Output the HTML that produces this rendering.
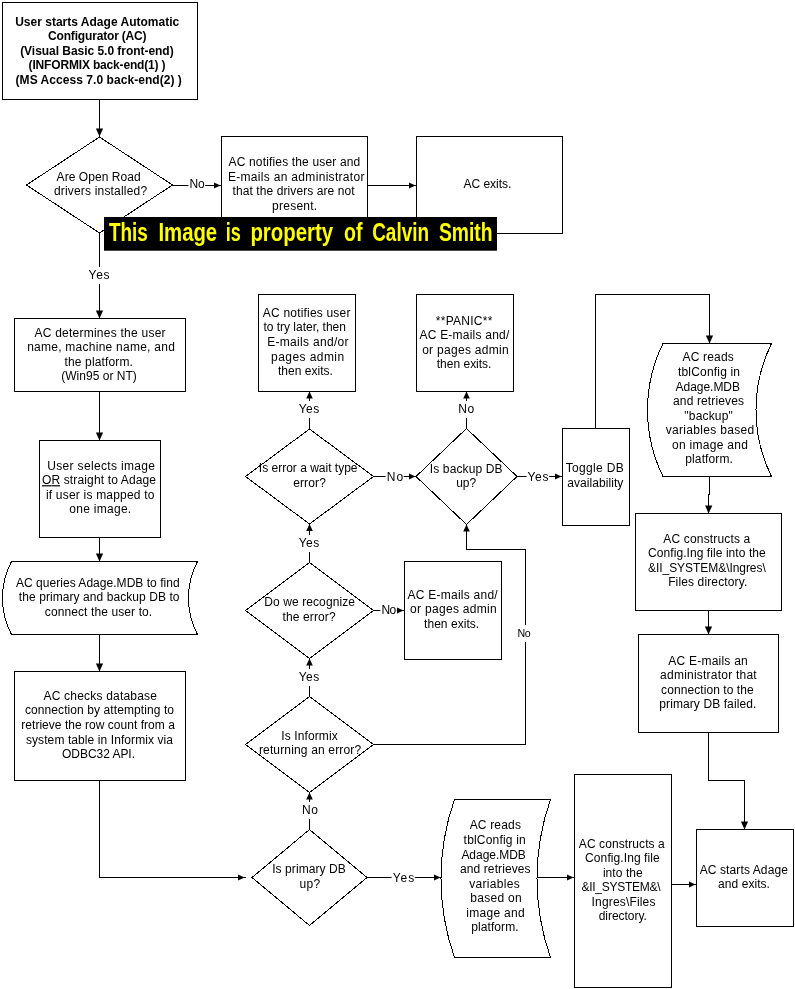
<!DOCTYPE html>
<html><head><meta charset="utf-8"><title>Adage Automatic Configurator flowchart</title>
<style>
html,body{margin:0;padding:0;background:#fff;}
body{width:795px;height:989px;overflow:hidden;position:relative;}
svg{position:absolute;left:0;top:0;display:block;will-change:transform;}
.s{fill:#fff;stroke:#000;stroke-width:1;}
.l{fill:none;stroke:#000;stroke-width:1;}
.a{fill:#000;stroke:none;}
text{font-family:"Liberation Sans",sans-serif;font-size:12px;fill:#000;text-anchor:middle;}
.b{font-weight:bold;}
.w{fill:#fff;stroke:none;}
.ban{font-family:"Liberation Sans",sans-serif;font-weight:bold;font-size:25.5px;fill:#ffff00;text-anchor:start;}
</style></head><body>
<svg width="795" height="989" viewBox="0 0 795 989">
<rect x="0" y="0" width="795" height="989" fill="#fff"/>
<g shape-rendering="crispEdges">
<path class="l" d="M99.5,99.5 L99.5,136.5"/>
<path class="l" d="M172.5,185.5 L221.5,185.5"/>
<path class="l" d="M367.5,185.5 L416.5,185.5"/>
<path class="l" d="M99.5,233 L99.5,318.5"/>
<path class="l" d="M99.5,391.5 L99.5,440.5"/>
<path class="l" d="M99.5,537.5 L99.5,561.5"/>
<path class="l" d="M99.5,634.5 L99.5,671.5"/>
<path class="l" d="M99.5,780.5 L99.5,877.5 L245.5,877.5"/>
<path class="l" d="M309.5,829.5 L309.5,792.5"/>
<path class="l" d="M309.5,696.5 L309.5,658.5"/>
<path class="l" d="M309.5,562.5 L309.5,524"/>
<path class="l" d="M309.5,429 L309.5,391.5"/>
<path class="l" d="M373.5,476.5 L416.5,476.5"/>
<path class="l" d="M466.5,428.5 L466.5,391.5"/>
<path class="l" d="M516.5,476.5 L562.5,476.5"/>
<path class="l" d="M595.5,428.5 L595.5,294.5 L709.5,294.5 L709.5,343.5"/>
<path class="l" d="M709.5,476.5 L708.5,513.5"/>
<path class="l" d="M708.5,610.5 L708.5,634.5"/>
<path class="l" d="M708.5,732.5 L708.5,780.5 L744.5,780.5 L744.5,829.5"/>
<path class="l" d="M373.5,610.5 L404.5,610.5"/>
<path class="l" d="M373.5,744.5 L525.5,744.5 L525.5,549.5 L466.5,549.5 L466.5,524.5"/>
<path class="l" d="M367,877.5 L441.5,877.5"/>
<path class="l" d="M537.5,877.5 L574.5,877.5"/>
<path class="l" d="M671.5,884.5 L696.5,884.5"/>
<rect class="s" x="2.5" y="2.5" width="195" height="97"/>
<rect class="s" x="221.5" y="136.5" width="146" height="97"/>
<rect class="s" x="416.5" y="136.5" width="146" height="97"/>
<rect class="s" x="14.5" y="318.5" width="171" height="73"/>
<rect class="s" x="39.5" y="440.5" width="121" height="97"/>
<rect class="s" x="14.5" y="671.5" width="171" height="109"/>
<rect class="s" x="258.5" y="294.5" width="97" height="97"/>
<rect class="s" x="416.5" y="294.5" width="97" height="97"/>
<rect class="s" x="404.5" y="561.5" width="97" height="98"/>
<rect class="s" x="562.5" y="428.5" width="67" height="97"/>
<rect class="s" x="635.5" y="513.5" width="146" height="97"/>
<rect class="s" x="638.5" y="634.5" width="140" height="98"/>
<rect class="s" x="574.5" y="774.5" width="97" height="213"/>
<rect class="s" x="696.5" y="829.5" width="97" height="97"/>
</g>
<g shape-rendering="crispEdges">
<path class="s" d="M99.5,137 L172.5,185 L99.5,233 L26.5,185 Z"/>
<path class="s" d="M309.5,429 L373.5,476.5 L309.5,524 L245.5,476.5 Z"/>
<path class="s" d="M309.5,562.5 L373.5,610.5 L309.5,658.5 L245.5,610.5 Z"/>
<path class="s" d="M309.5,696.5 L373.5,744.5 L309.5,792.5 L245.5,744.5 Z"/>
<path class="s" d="M309.5,829.5 L367,877.5 L309.5,925.5 L252,877.5 Z"/>
<path class="s" d="M466.5,428.5 L517,476.5 L466.5,524.5 L416,476.5 Z"/>
<path class="s" d="M11.5,561.5 L197.5,561.5 A78.5,78.5 0 0 0 197.5,634.5 L11.5,634.5 A78.5,78.5 0 0 1 11.5,561.5 Z"/>
<path class="s" d="M663,343.5 L771.5,343.5 A150.4,150.4 0 0 0 771.5,476.5 L663,476.5 A150.4,150.4 0 0 1 663,343.5 Z"/>
<path class="s" d="M454.5,799.5 L550.5,799.5 A237.9,237.9 0 0 0 550.5,957.5 L454.5,957.5 A237.9,237.9 0 0 1 454.5,799.5 Z"/>
</g>
<g>
<path class="a" d="M99.5,136.5 L95.9,128.5 L103.1,128.5 Z"/>
<path class="a" d="M220.5,185.5 L214,188.6 L214,182.4 Z"/>
<path class="a" d="M415.5,185.5 L409,188.6 L409,182.4 Z"/>
<path class="a" d="M99.5,318.5 L95.9,310.5 L103.1,310.5 Z"/>
<path class="a" d="M99.5,440.5 L95.9,432.5 L103.1,432.5 Z"/>
<path class="a" d="M99.5,561.5 L95.9,553.5 L103.1,553.5 Z"/>
<path class="a" d="M99.5,671.5 L95.9,663.5 L103.1,663.5 Z"/>
<path class="a" d="M244.5,877.5 L238,880.6 L238,874.4 Z"/>
<path class="a" d="M309.5,792.5 L312.8,799.5 L306.2,799.5 Z"/>
<path class="a" d="M309.5,658.5 L312.8,665.5 L306.2,665.5 Z"/>
<path class="a" d="M309.5,524 L312.8,531 L306.2,531 Z"/>
<path class="a" d="M309.5,391.5 L312.8,398.5 L306.2,398.5 Z"/>
<path class="a" d="M415.5,476.5 L409,479.6 L409,473.4 Z"/>
<path class="a" d="M466.5,391.5 L469.8,398.5 L463.2,398.5 Z"/>
<path class="a" d="M561.5,476.5 L555,479.6 L555,473.4 Z"/>
<path class="a" d="M709.5,343.5 L705.9,335.5 L713.1,335.5 Z"/>
<path class="a" d="M708.5,513.5 L705.117,505.406 L712.315,505.6 Z"/>
<path class="a" d="M708.5,634.5 L704.9,626.5 L712.1,626.5 Z"/>
<path class="a" d="M744.5,829.5 L740.9,821.5 L748.1,821.5 Z"/>
<path class="a" d="M403.5,610.5 L397,613.6 L397,607.4 Z"/>
<path class="a" d="M466.5,524.5 L469.8,531.5 L463.2,531.5 Z"/>
<path class="a" d="M440.5,877.5 L434,880.6 L434,874.4 Z"/>
<path class="a" d="M573.5,877.5 L567,880.6 L567,874.4 Z"/>
<path class="a" d="M695.5,884.5 L689,887.6 L689,881.4 Z"/>
</g>
<g>
<rect class="w" x="188.4" y="176.3" width="16.8" height="17"/>
<text x="197.1" y="188.3" textLength="15.1" lengthAdjust="spacing">No</text>
<rect class="w" x="87.5" y="267.0" width="22.7" height="17"/>
<text x="99.1" y="279" textLength="21.0" lengthAdjust="spacing">Yes</text>
<rect class="w" x="297.6" y="401.0" width="22.2" height="17"/>
<text x="309.0" y="413" textLength="20.5" lengthAdjust="spacing">Yes</text>
<rect class="w" x="297.6" y="535.0" width="22.2" height="17"/>
<text x="309.0" y="547" textLength="20.5" lengthAdjust="spacing">Yes</text>
<rect class="w" x="297.6" y="669.0" width="22.2" height="17"/>
<text x="309.0" y="681" textLength="20.5" lengthAdjust="spacing">Yes</text>
<rect class="w" x="300.9" y="802.0" width="17.7" height="17"/>
<text x="310.0" y="814" textLength="16.0" lengthAdjust="spacing">No</text>
<rect class="w" x="385.6" y="468.5" width="18.1" height="17"/>
<text x="394.9" y="480.5" textLength="16.4" lengthAdjust="spacing">No</text>
<rect class="w" x="457.1" y="401.0" width="17.7" height="17"/>
<text x="466.2" y="413" textLength="16.0" lengthAdjust="spacing">No</text>
<rect class="w" x="526.5" y="468.5" width="22.6" height="17"/>
<text x="538.0" y="480.5" textLength="20.9" lengthAdjust="spacing">Yes</text>
<rect class="w" x="380.3" y="602.0" width="16.4" height="17"/>
<text x="388.8" y="614" textLength="14.7" lengthAdjust="spacing">No</text>
<rect class="w" x="516.5" y="625.0" width="14.9" height="17"/>
<text x="524.2" y="637" textLength="13.2" lengthAdjust="spacing" style="font-size:10.67px">No</text>
<rect class="w" x="391.6" y="870.0" width="23.2" height="17"/>
<text x="403.5" y="882" textLength="21.5" lengthAdjust="spacing">Yes</text>
</g>
<g>
<text class="b" x="97.2" y="25.7" textLength="164.1" lengthAdjust="spacing">User starts Adage Automatic</text>
<text class="b" x="97.3" y="40.3" textLength="98.6" lengthAdjust="spacing">Configurator (AC)</text>
<text class="b" x="96.9" y="54.8" textLength="153.5" lengthAdjust="spacing">(Visual Basic 5.0 front-end)</text>
<text class="b" x="97.1" y="69.4" textLength="137.0" lengthAdjust="spacing">(INFORMIX back-end(1) )</text>
<text class="b" x="98.7" y="83.9" textLength="166.3" lengthAdjust="spacing">(MS Access 7.0 back-end(2) )</text>
<text x="98.6" y="180.6" textLength="84.0" lengthAdjust="spacing">Are Open Road</text>
<text x="100.5" y="195.2" textLength="93.2" lengthAdjust="spacing">drivers installed?</text>
<text x="294.4" y="166.1" textLength="131.7" lengthAdjust="spacing">AC notifies the user and</text>
<text x="296.2" y="180.7" textLength="136.6" lengthAdjust="spacing">E-mails an administrator</text>
<text x="293.6" y="195.2" textLength="122.2" lengthAdjust="spacing">that the drivers are not</text>
<text x="294.6" y="209.8" textLength="45.1" lengthAdjust="spacing">present.</text>
<text x="487.4" y="187.9" textLength="47.7" lengthAdjust="spacing">AC exits.</text>
<text x="100.0" y="336.5" textLength="131.2" lengthAdjust="spacing">AC determines the user</text>
<text x="101.0" y="351.0" textLength="147.7" lengthAdjust="spacing">name, machine name, and</text>
<text x="98.7" y="365.6" textLength="68.3" lengthAdjust="spacing">the platform.</text>
<text x="99.0" y="380.1" textLength="75.7" lengthAdjust="spacing">(Win95 or NT)</text>
<text x="101.1" y="469.7" textLength="107.6" lengthAdjust="spacing">User selects image</text>
<text x="99.0" y="484.2" textLength="114.1" lengthAdjust="spacing"><tspan text-decoration="underline">OR</tspan>  straight to Adage</text>
<text x="100.2" y="498.8" textLength="108.6" lengthAdjust="spacing">if user is mapped to</text>
<text x="100.2" y="513.4" textLength="62.0" lengthAdjust="spacing">one image.</text>
<text x="97.8" y="586.8" textLength="163.7" lengthAdjust="spacing">AC queries Adage.MDB to find</text>
<text x="99.2" y="601.3" textLength="160.7" lengthAdjust="spacing">the primary and backup DB to</text>
<text x="98.5" y="615.9" textLength="107.4" lengthAdjust="spacing">connect the user to.</text>
<text x="100.2" y="699.8" textLength="113.5" lengthAdjust="spacing">AC checks database</text>
<text x="99.5" y="714.4" textLength="149.1" lengthAdjust="spacing">connection by attempting to</text>
<text x="98.1" y="728.9" textLength="153.6" lengthAdjust="spacing">retrieve the row count from a</text>
<text x="99.5" y="743.5" textLength="147.1" lengthAdjust="spacing">system table in Informix via</text>
<text x="98.5" y="758.0" textLength="73.0" lengthAdjust="spacing">ODBC32 API.</text>
<text x="306.6" y="316.8" textLength="87.6" lengthAdjust="spacing">AC notifies user</text>
<text x="304.7" y="331.4" textLength="82.4" lengthAdjust="spacing">to try later, then</text>
<text x="307.9" y="345.9" textLength="81.4" lengthAdjust="spacing">E-mails and/or</text>
<text x="307.6" y="360.5" textLength="73.0" lengthAdjust="spacing">pages admin</text>
<text x="305.4" y="375.0" textLength="54.9" lengthAdjust="spacing">then exits.</text>
<text x="308.2" y="472.4" textLength="98.7" lengthAdjust="spacing">Is error a wait type</text>
<text x="309.5" y="487.0" textLength="32.7" lengthAdjust="spacing">error?</text>
<text x="309.6" y="606.4" textLength="90.8" lengthAdjust="spacing">Do we recognize</text>
<text x="309.1" y="620.9" textLength="53.0" lengthAdjust="spacing">the error?</text>
<text x="309.5" y="739.9" textLength="56.3" lengthAdjust="spacing">Is Informix</text>
<text x="310.0" y="754.4" textLength="102.2" lengthAdjust="spacing">returning an error?</text>
<text x="309.0" y="873.4" textLength="73.7" lengthAdjust="spacing">Is primary DB</text>
<text x="309.8" y="887.9" textLength="20.7" lengthAdjust="spacing">up?</text>
<text x="464.1" y="324.5" textLength="56.6" lengthAdjust="spacing">**PANIC**</text>
<text x="464.4" y="339.0" textLength="89.9" lengthAdjust="spacing">AC E-mails and/</text>
<text x="465.4" y="353.6" textLength="86.5" lengthAdjust="spacing">or pages admin</text>
<text x="464.1" y="368.1" textLength="54.7" lengthAdjust="spacing">then exits.</text>
<text x="466.2" y="472.8" textLength="72.7" lengthAdjust="spacing">Is backup DB</text>
<text x="466.2" y="487.4" textLength="19.9" lengthAdjust="spacing">up?</text>
<text x="452.6" y="598.6" textLength="90.1" lengthAdjust="spacing">AC E-mails and/</text>
<text x="453.4" y="613.1" textLength="86.6" lengthAdjust="spacing">or pages admin</text>
<text x="451.6" y="627.7" textLength="55.1" lengthAdjust="spacing">then exits.</text>
<text x="594.7" y="472.3" textLength="58.0" lengthAdjust="spacing">Toggle DB</text>
<text x="595.3" y="486.9" textLength="56.1" lengthAdjust="spacing">availability</text>
<text x="708.2" y="361.4" textLength="51.2" lengthAdjust="spacing">AC reads</text>
<text x="709.0" y="376.0" textLength="62.1" lengthAdjust="spacing">tblConfig in</text>
<text x="707.8" y="390.6" textLength="64.4" lengthAdjust="spacing">Adage.MDB</text>
<text x="708.5" y="405.1" textLength="71.0" lengthAdjust="spacing">and retrieves</text>
<text x="708.6" y="419.6" textLength="48.5" lengthAdjust="spacing">"backup"</text>
<text x="709.9" y="434.2" textLength="88.5" lengthAdjust="spacing">variables based</text>
<text x="710.0" y="448.8" textLength="75.8" lengthAdjust="spacing">on image and</text>
<text x="709.1" y="463.3" textLength="47.6" lengthAdjust="spacing">platform.</text>
<text x="706.8" y="542.7" textLength="86.9" lengthAdjust="spacing">AC constructs a</text>
<text x="706.9" y="557.2" textLength="117.7" lengthAdjust="spacing">Config.Ing file into the</text>
<text x="706.9" y="571.8" textLength="117.7" lengthAdjust="spacing">&amp;II_SYSTEM&amp;\Ingres\</text>
<text x="707.7" y="586.4" textLength="79.1" lengthAdjust="spacing">Files directory.</text>
<text x="708.0" y="664.6" textLength="79.5" lengthAdjust="spacing">AC E-mails an</text>
<text x="708.4" y="679.1" textLength="96.6" lengthAdjust="spacing">administrator that</text>
<text x="707.4" y="693.7" textLength="92.6" lengthAdjust="spacing">connection to the</text>
<text x="707.8" y="708.2" textLength="97.0" lengthAdjust="spacing">primary DB failed.</text>
<text x="495.3" y="829.4" textLength="51.2" lengthAdjust="spacing">AC reads</text>
<text x="494.7" y="843.9" textLength="62.2" lengthAdjust="spacing">tblConfig in</text>
<text x="493.6" y="858.5" textLength="64.4" lengthAdjust="spacing">Adage.MDB</text>
<text x="495.3" y="873.0" textLength="70.6" lengthAdjust="spacing">and retrieves</text>
<text x="494.5" y="887.6" textLength="50.5" lengthAdjust="spacing">variables</text>
<text x="496.0" y="902.1" textLength="51.6" lengthAdjust="spacing">based on</text>
<text x="495.5" y="916.7" textLength="58.6" lengthAdjust="spacing">image and</text>
<text x="494.9" y="931.2" textLength="47.5" lengthAdjust="spacing">platform.</text>
<text x="621.8" y="847.6" textLength="86.0" lengthAdjust="spacing">AC constructs a</text>
<text x="622.4" y="862.1" textLength="74.6" lengthAdjust="spacing">Config.Ing file</text>
<text x="622.8" y="876.7" textLength="39.8" lengthAdjust="spacing">into the</text>
<text x="621.0" y="891.2" textLength="79.1" lengthAdjust="spacing">&amp;II_SYSTEM&amp;\</text>
<text x="623.5" y="905.8" textLength="63.8" lengthAdjust="spacing">Ingres\Files</text>
<text x="622.8" y="920.3" textLength="48.2" lengthAdjust="spacing">directory.</text>
<text x="743.8" y="873.9" textLength="88.2" lengthAdjust="spacing">AC starts Adage</text>
<text x="744.0" y="888.4" textLength="51.9" lengthAdjust="spacing">and exits.</text>
</g>
<g>
<rect x="104" y="217" width="393" height="33.7" fill="#000"/>
<text class="ban" x="108.9" y="240.9" textLength="38.9" lengthAdjust="spacingAndGlyphs">This</text>
<text class="ban" x="158.4" y="240.9" textLength="58.8" lengthAdjust="spacingAndGlyphs">Image</text>
<text class="ban" x="225.8" y="240.9" textLength="15.1" lengthAdjust="spacingAndGlyphs">is</text>
<text class="ban" x="250.4" y="240.9" textLength="82.8" lengthAdjust="spacingAndGlyphs">property</text>
<text class="ban" x="344" y="240.9" textLength="18.4" lengthAdjust="spacingAndGlyphs">of</text>
<text class="ban" x="372.2" y="240.9" textLength="56.8" lengthAdjust="spacingAndGlyphs">Calvin</text>
<text class="ban" x="438.9" y="240.9" textLength="53.6" lengthAdjust="spacingAndGlyphs">Smith</text>
</g>
</svg></body></html>
